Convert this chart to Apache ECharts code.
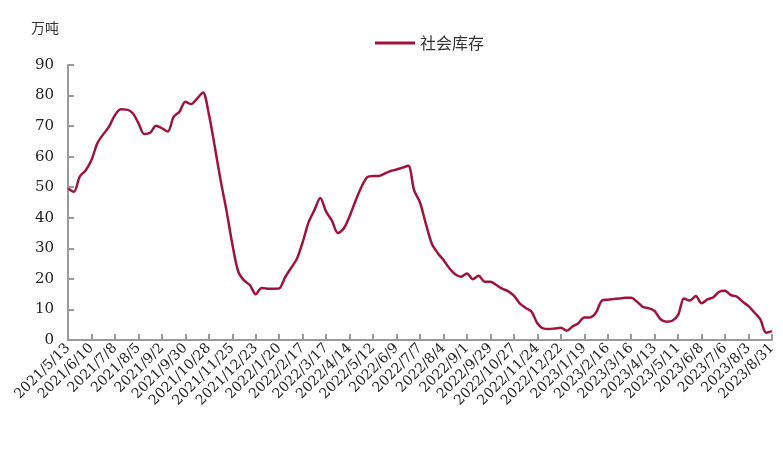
<!DOCTYPE html>
<html>
<head>
<meta charset="utf-8">
<script src="https://cdn.jsdelivr.net/npm/echarts@6/dist/echarts.min.js"></script>
</head>
<body style="margin:0">
<div id="main" style="width:783px;height:465px"></div>
<script>
// 周度日期：2021/5/13 起，共121周
var dates = [];
var d0 = new Date(2021, 4, 13);
for (var i = 0; i < 121; i++) {
    var d = new Date(d0.getTime() + i * 7 * 86400000);
    dates.push(d.getFullYear() + '/' + (d.getMonth() + 1) + '/' + d.getDate());
}
var stock = [
    49.6, 48.5, 53.5, 55.5, 58.9, 64.4, 67.3, 69.8, 73.6, 75.5,
    75.4, 74.3, 71, 67.4, 67.8, 70.1, 69.3, 68.2, 73, 74.7,
    78, 77.2, 79, 81, 74, 63.5, 52.4, 42.5, 31.5, 22.5,
    19.5, 18, 15, 17, 16.8, 16.8, 16.9, 20.5, 23.5, 26.5,
    32, 38.5, 42.5, 46.5, 42, 39, 35, 36.5, 40.5, 45.5,
    50, 53.3, 53.7, 53.7, 54.5, 55.3, 55.8, 56.4, 57, 49,
    45, 38, 31.6, 28.5, 26.2, 23.5, 21.5, 20.7, 21.8, 19.9,
    21, 19.1, 19.1, 18, 16.8, 16, 14.5, 12, 10.5, 9.3,
    5.5, 3.8, 3.6, 3.8, 4, 3.0, 4.4, 5.5, 7.4, 7.4,
    9, 12.9, 13.2, 13.4, 13.6, 13.8, 13.8, 12.5, 10.8, 10.4,
    9.5, 6.8, 6.0, 6.3, 8.2, 13.6, 12.9, 14.4, 12, 13.3,
    14, 15.8, 16.1, 14.7, 14.2, 12.5, 11.1, 9, 6.8, 2.4,
    2.9
];
var myChart = echarts.init(document.getElementById('main'));
var font = '"DejaVu Serif", "Noto Sans CJK SC", serif';
var option = {
    textStyle: {fontFamily: font},
    title: {
        text: '万吨', left: 26, top: 16,
        textStyle: {fontSize: 14, fontWeight: 'normal', color: '#333', fontFamily: '"Noto Sans CJK SC"'}
    },
    legend: {
        data: [{name: '社会库存', icon: 'rect'}], left: 370, top: 30,
        itemWidth: 40, itemHeight: 3,
        textStyle: {fontSize: 16, color: '#333', fontFamily: '"Noto Sans CJK SC"'}
    },
    grid: {left: 68, right: 11, top: 65, bottom: 125},
    xAxis: {
        type: 'category', data: dates, boundaryGap: false,
        axisLine: {lineStyle: {color: '#999', width: 2}},
        axisTick: {inside: true, interval: 3, length: 6, lineStyle: {color: '#999', width: 2}},
        axisLabel: {interval: 3, rotate: 45, fontSize: 14, color: '#222', margin: 6, fontFamily: font}
    },
    yAxis: {
        type: 'value', min: 0, max: 90, interval: 10,
        splitLine: {show: false},
        axisLine: {show: true, lineStyle: {color: '#999', width: 2}},
        axisTick: {show: true, inside: true, length: 6, lineStyle: {color: '#999', width: 2}},
        axisLabel: {fontSize: 15, color: '#222', margin: 14, fontFamily: font}
    },
    series: [{
        name: '社会库存', type: 'line', data: stock,
        smooth: 0.3, showSymbol: false,
        lineStyle: {color: '#a0143c', width: 2.5},
        itemStyle: {color: '#a0143c'}
    }]
};
myChart.setOption(option);
</script>
</body>
</html>
